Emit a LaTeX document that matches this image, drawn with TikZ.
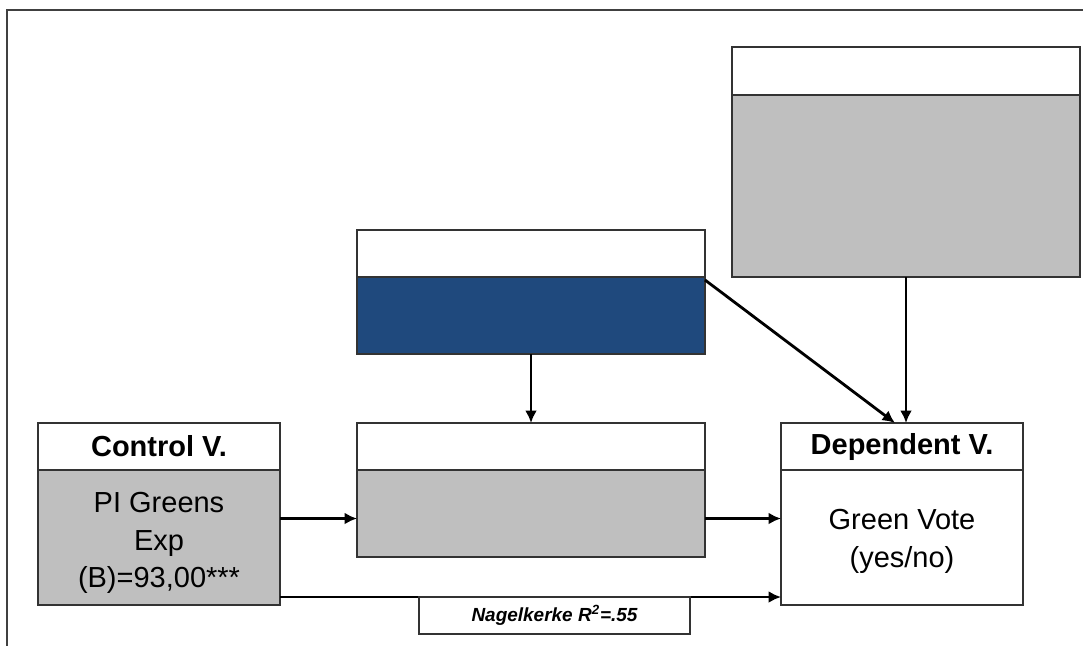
\documentclass[tikz,border=0pt]{standalone}
\usepackage{fontspec}
\setmainfont{Liberation Sans}
\usetikzlibrary{arrows.meta}
\definecolor{boxgray}{HTML}{BFBFBF}
\definecolor{boxblue}{HTML}{1F497D}
\definecolor{edge}{HTML}{333333}
\begin{document}
\begin{tikzpicture}[
  head/.style={draw=edge, line width=0.8pt, fill=white, anchor=north west, inner sep=0pt, outer sep=0pt,
    minimum height=0.94cm, font=\fontsize{16.5}{21}\selectfont\bfseries},
  body/.style={draw=edge, line width=0.8pt, anchor=north west, inner sep=0pt, outer sep=0pt, align=center,
    font=\fontsize{16.5}{21}\selectfont},
  txt/.style={align=center, font=\fontsize{16.5}{21.5}\selectfont, yshift=-0.11cm},
  arr/.style={-{Latex[length=2.5mm,width=2.4mm]}, line width=1.6pt}
]
\useasboundingbox (0,0) rectangle (21.66,-12.92);
\draw[line width=1.1pt, draw=black!75] (21.66,-0.2) -- (0.14,-0.2) -- (0.14,-12.92);

\node[head, minimum width=4.84cm] (ctrlhead) at (0.76,-8.46) {Control V.};
\node[body, fill=boxgray, minimum width=4.84cm, minimum height=2.7cm,
  label={[txt]center:PI Greens\\Exp\\(B)=93,00***}] (ctrlbody) at (0.76,-9.40) {};

\node[head, minimum width=6.96cm] (medhead) at (7.14,-8.46) {};
\node[body, fill=boxgray, minimum width=6.96cm, minimum height=1.74cm] (medbody) at (7.14,-9.40) {};

\node[head, minimum width=6.96cm] (bluehead) at (7.14,-4.60) {};
\node[body, fill=boxblue, minimum width=6.96cm, minimum height=1.54cm] (bluebody) at (7.14,-5.54) {};

\node[head, minimum width=6.96cm, minimum height=0.96cm] (topxhead) at (14.64,-0.94) {};
\node[body, fill=boxgray, minimum width=6.96cm, minimum height=3.64cm] (topxbody) at (14.64,-1.90) {};

\node[head, minimum width=4.84cm] (dephead) at (15.62,-8.46) {Dependent V.};
\node[body, fill=white, minimum width=4.84cm, minimum height=2.7cm,
  label={[txt, yshift=0.03cm]center:Green Vote\\(yes/no)}] (depbody) at (15.62,-9.40) {};

\draw[arr] ([yshift=-0.1cm]ctrlbody.east |- medbody.west) -- ([yshift=-0.1cm]medbody.west);
\draw[arr] ([yshift=-0.1cm]medbody.east) -- ([yshift=-0.1cm]medbody.east -| depbody.west);
\draw[arr] ([yshift=0.16cm]ctrlbody.south east) -- ([yshift=0.16cm]depbody.south west);
\draw[arr] (bluebody.south) -- (bluebody.south |- medhead.north);
\draw[arr] ([yshift=-0.06cm]bluebody.north east) -- ([xshift=-0.14cm]dephead.north);
\draw[arr] (topxbody.south) -- (topxbody.south |- dephead.north);

\node[body, fill=white, minimum width=5.42cm, minimum height=0.74cm,
  font=\fontsize{10.8}{12}\selectfont\bfseries\itshape] (nagel) at (8.38,-11.94) {Nagelkerke R\textsuperscript{2}=.55};
\end{tikzpicture}
\end{document}
